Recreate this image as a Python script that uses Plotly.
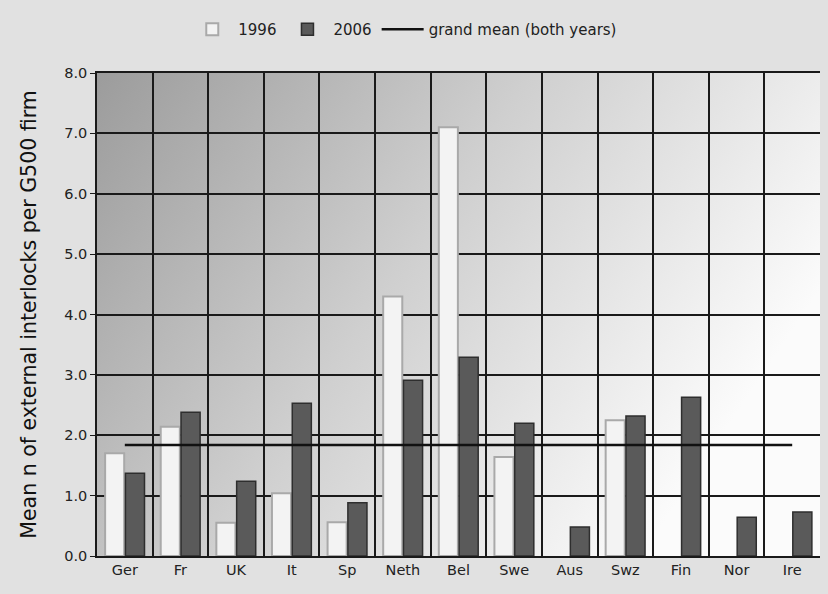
import plotly.graph_objects as go
import urllib.parse

categories = ["Ger", "Fr", "UK", "It", "Sp", "Neth", "Bel", "Swe", "Aus", "Swz", "Fin", "Nor", "Ire"]
values_1996 = [1.70, 2.14, 0.55, 1.04, 0.56, 4.30, 7.10, 1.64, None, 2.25, None, None, None]
values_2006 = [1.37, 2.38, 1.24, 2.53, 0.88, 2.91, 3.29, 2.20, 0.48, 2.32, 2.63, 0.64, 0.73]
grand_mean = 1.84
y_ticks = [0, 1, 2, 3, 4, 5, 6, 7, 8]

FONT = "DejaVu Sans"

svg = (
    '<svg xmlns="http://www.w3.org/2000/svg" width="100" height="100" preserveAspectRatio="none" viewBox="0 0 100 100">'
    '<defs><linearGradient id="g" x1="0" y1="0" x2="1" y2="0.45">'
    '<stop offset="0" stop-color="#9c9c9c"/>'
    '<stop offset="0.5" stop-color="#cfcfcf"/>'
    '<stop offset="1" stop-color="#fbfbfb"/>'
    '</linearGradient></defs>'
    '<rect x="0" y="0" width="100" height="100" fill="url(#g)"/></svg>'
)
svg_uri = "data:image/svg+xml;charset=utf-8," + urllib.parse.quote(svg)

fig = go.Figure()
fig.add_trace(go.Bar(
    x=categories, y=values_1996, name="1996",
    marker=dict(color="#f3f3f3", line=dict(color="#a9a9a9", width=2)),
))
fig.add_trace(go.Bar(
    x=categories, y=values_2006, name="2006",
    marker=dict(color="#5a5a5a", line=dict(color="#2e2e2e", width=1.5)),
))
fig.add_trace(go.Scatter(
    x=categories, y=[grand_mean] * len(categories), name="grand mean (both years)",
    mode="lines", line=dict(color="#111111", width=2.5),
))

fig.add_layout_image(dict(
    source=svg_uri, xref="paper", yref="paper", x=0, y=1, sizex=1, sizey=1,
    sizing="stretch", xanchor="left", yanchor="top", layer="below",
))

fig.update_layout(
    width=820, height=586,
    margin=dict(l=89, r=8, t=65, b=38, autoexpand=False),
    paper_bgcolor="#e1e1e1",
    plot_bgcolor="rgba(0,0,0,0)",
    font=dict(family=FONT, size=15, color="#222222"),
    barmode="group", bargap=0.27, bargroupgap=0.06,
    showlegend=True,
    legend=dict(orientation="h", x=0.425, xanchor="center", y=1.09, yanchor="middle",
                bgcolor="rgba(0,0,0,0)", font=dict(family=FONT, size=15, color="#222222"),
                itemwidth=42),
    xaxis=dict(
        type="category", tickson="boundaries", showgrid=True, gridcolor="#1a1a1a", gridwidth=1.5,
        showline=True, linecolor="#1a1a1a", linewidth=1.5, mirror=True, ticks="",
        tickfont=dict(family=FONT, size=14.5, color="#222222"),
    ),
    yaxis=dict(
        range=[0, 8], tickvals=y_ticks, tickformat=".1f", showgrid=True, gridcolor="#1a1a1a", gridwidth=1.5,
        showline=True, linecolor="#1a1a1a", linewidth=1.5, mirror=True,
        ticks="outside", ticklen=5, tickcolor="#1a1a1a", zeroline=False,
        tickfont=dict(family=FONT, size=14.5, color="#222222"),
        title=dict(text="Mean n of external interlocks per G500 firm",
                   font=dict(family=FONT, size=20.5, color="#111111"), standoff=22),
    ),
)

fig.write_html("out.html", post_script="document.body.style.background='#e1e1e1';")
